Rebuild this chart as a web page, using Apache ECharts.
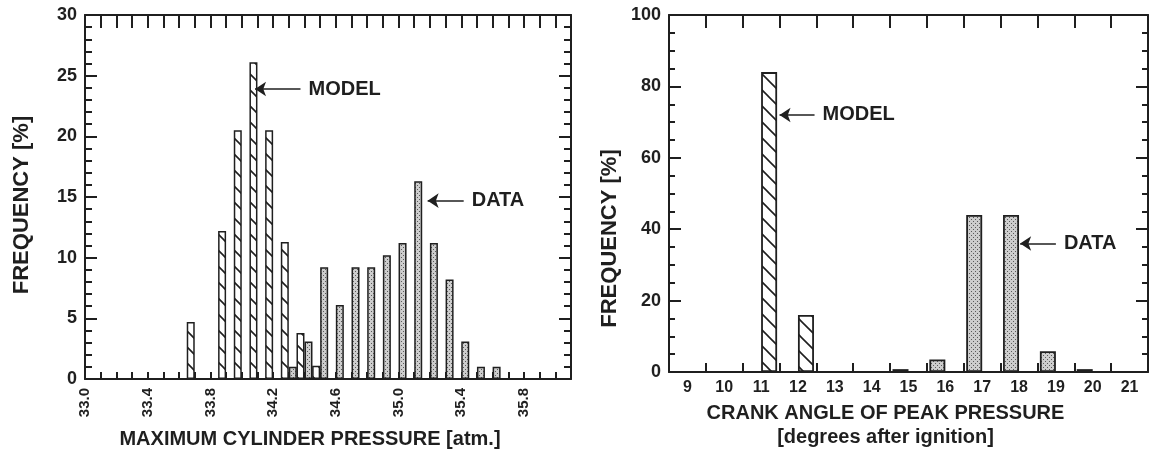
<!DOCTYPE html>
<html>
<head>
<meta charset="utf-8">
<style>
  html, body { margin: 0; padding: 0; background: #ffffff; }
  #chart { width: 1149px; height: 454px; }
</style>
<script src="https://cdn.jsdelivr.net/npm/echarts@6/dist/echarts.min.js"></script>
</head>
<body>
<div id="chart"></div>
<script>
// ---- Maximum cylinder pressure histogram (0.1 atm bins) ----
const pressureBins  = [33.7, 33.9, 34.0, 34.1, 34.2, 34.3, 34.4, 34.5, 34.6, 34.7,
                       34.8, 34.9, 35.0, 35.1, 35.2, 35.3, 35.4, 35.5, 35.6];
const pressureModel = [4.7, 12.2, 20.5, 26.1, 20.5, 11.3, 3.8, 1.1, null, null,
                       null, null, null, null, null, null, null, null, null];
const pressureData  = [null, null, null, null, null, 1.0, 3.1, 9.2, 6.1, 9.2,
                       9.2, 10.2, 11.2, 16.3, 11.2, 8.2, 3.1, 1.0, 1.0];
const pressureLabels = ['33.0', '33.4', '33.8', '34.2', '34.6', '35.0', '35.4', '35.8'];

// ---- Crank angle of peak pressure histogram (1 degree bins) ----
const crankAngles = ['9', '10', '11', '12', '13', '14', '15', '16', '17', '18', '19', '20', '21'];
const crankModel  = [null, null, 84, 16, null, null, null, null, null, null, null, null, null];
const crankData   = [null, null, null, null, null, null, 0.8, 3.5, 44, 44, 5.8, 0.8, null];

const FONT = '"Liberation Sans", Arial, Helvetica, sans-serif';
const INK = '#1f1f1f';

// Fill patterns: diagonal hatch for the model, grey stipple for the measurements
function hatchPattern() {
  const c = document.createElement('canvas');
  c.width = 16; c.height = 16;
  const g = c.getContext('2d');
  g.fillStyle = '#ffffff';
  g.fillRect(0, 0, 16, 16);
  g.strokeStyle = INK;
  g.lineWidth = 1.6;
  g.beginPath();
  g.moveTo(-2, -2); g.lineTo(18, 18);
  g.moveTo(-2, 14); g.lineTo(2, 18);
  g.moveTo(14, -2); g.lineTo(18, 2);
  g.stroke();
  return c;
}
function stipplePattern() {
  const c = document.createElement('canvas');
  c.width = 4; c.height = 4;
  const g = c.getContext('2d');
  g.fillStyle = '#cdcdcd';
  g.fillRect(0, 0, 4, 4);
  g.fillStyle = '#5a5a5a';
  g.fillRect(1, 1, 1, 1);
  g.fillRect(3, 3, 1, 1);
  return c;
}
const HATCH = { image: hatchPattern(), repeat: 'repeat' };
const STIPPLE = { image: stipplePattern(), repeat: 'repeat' };

const pairs = (xs, ys) => xs.map((x, i) => [x, ys[i]]).filter(p => p[1] != null);

const boldText = (size) => ({ fontFamily: FONT, fontWeight: 'bold', fontSize: size, color: INK });

const axisLine = { show: true, onZero: false, lineStyle: { color: INK, width: 2 } };

function tickAxis(extra) {
  return Object.assign({
    axisLine: axisLine,
    splitLine: { show: false },
    minorSplitLine: { show: false }
  }, extra);
}

// Labelled arrows; each entry is [text, tail coord, head coord]
function arrowLines(entries) {
  return {
    silent: true,
    animation: false,
    symbol: ['none', 'arrow'],
    symbolSize: 11,
    lineStyle: { color: INK, width: 1.6, type: 'solid' },
    label: Object.assign({ show: true, position: 'start', distance: 8, formatter: '{b}' }, boldText(20)),
    data: entries.map(([text, from, to]) => [{ name: text, coord: from }, { name: text, coord: to }])
  };
}

const option = {
  animation: false,
  backgroundColor: '#ffffff',
  grid: [
    { left: 85, right: 578, top: 15, bottom: 74 },
    { left: 669, right: 1, top: 15, bottom: 78 }
  ],
  xAxis: [
    tickAxis({
      gridIndex: 0, type: 'value', position: 'bottom',
      min: 33.0, max: 36.1, interval: 0.1,
      axisTick: { show: true, inside: true, length: 7, lineStyle: { color: INK, width: 2 } },
      axisLabel: Object.assign({
        rotate: 90, margin: 9,
        formatter: (v) => {
          const s = v.toFixed(1);
          return pressureLabels.indexOf(s) >= 0 ? s : '';
        }
      }, boldText(15)),
      name: 'MAXIMUM CYLINDER PRESSURE [atm.]',
      nameLocation: 'middle', nameGap: 50,
      nameTextStyle: Object.assign({ padding: [0, 36, 0, 0] }, boldText(20))
    }),
    tickAxis({
      gridIndex: 0, type: 'value', position: 'top',
      min: 33.0, max: 36.1, interval: 0.1,
      axisTick: { show: true, inside: true, length: 13, lineStyle: { color: INK, width: 2 } },
      axisLabel: { show: false }
    }),
    tickAxis({
      gridIndex: 1, type: 'category', position: 'bottom', data: crankAngles,
      boundaryGap: true,
      axisTick: { show: true, inside: true, length: 9, lineStyle: { color: INK, width: 2 } },
      axisLabel: Object.assign({ margin: 8 }, boldText(16)),
      name: 'CRANK ANGLE OF PEAK PRESSURE\n[degrees after ignition]',
      nameLocation: 'middle', nameGap: 29,
      nameTextStyle: Object.assign({ lineHeight: 24, padding: [0, 46, 0, 0], verticalAlign: 'top' }, boldText(20))
    }),
    tickAxis({
      gridIndex: 1, type: 'category', position: 'top', data: crankAngles,
      boundaryGap: true,
      axisTick: { show: true, inside: true, length: 13, lineStyle: { color: INK, width: 2 } },
      axisLabel: { show: false }
    }),
    { gridIndex: 1, type: 'value', min: 8.5, max: 21.5, show: false }
  ],
  yAxis: [
    tickAxis({
      gridIndex: 0, type: 'value', position: 'left',
      min: 0, max: 30, interval: 5,
      axisTick: { show: true, inside: true, length: 12, lineStyle: { color: INK, width: 2 } },
      minorTick: { show: true, splitNumber: 5, length: 7, lineStyle: { color: INK, width: 2 } },
      axisLabel: Object.assign({ margin: 8 }, boldText(18)),
      name: 'FREQUENCY [%]', nameLocation: 'middle', nameGap: 52,
      nameTextStyle: Object.assign({ padding: [0, 16, 0, 0] }, boldText(22))
    }),
    tickAxis({
      gridIndex: 0, type: 'value', position: 'right',
      min: 0, max: 30, interval: 5,
      axisTick: { show: true, inside: true, length: 12, lineStyle: { color: INK, width: 2 } },
      minorTick: { show: true, splitNumber: 5, length: 7, lineStyle: { color: INK, width: 2 } },
      axisLabel: { show: false }
    }),
    tickAxis({
      gridIndex: 1, type: 'value', position: 'left',
      min: 0, max: 100, interval: 20,
      axisTick: { show: true, inside: true, length: 12, lineStyle: { color: INK, width: 2 } },
      minorTick: { show: true, splitNumber: 4, length: 6, lineStyle: { color: INK, width: 2 } },
      axisLabel: Object.assign({ margin: 8 }, boldText(18)),
      name: 'FREQUENCY [%]', nameLocation: 'middle', nameGap: 48,
      nameTextStyle: Object.assign({ padding: [0, 90, 0, 0] }, boldText(22))
    }),
    tickAxis({
      gridIndex: 1, type: 'value', position: 'right',
      min: 0, max: 100, interval: 20,
      axisTick: { show: true, inside: true, length: 12, lineStyle: { color: INK, width: 2 } },
      minorTick: { show: true, splitNumber: 4, length: 6, lineStyle: { color: INK, width: 2 } },
      axisLabel: { show: false }
    })
  ],
  series: [
    {
      name: 'MODEL', type: 'bar', xAxisIndex: 0, yAxisIndex: 0,
      barWidth: 8, barGap: '0%',
      data: pairs(pressureBins, pressureModel),
      itemStyle: { color: HATCH, borderColor: INK, borderWidth: 1.5 },
      markLine: arrowLines([['MODEL', [34.40, 23.9], [34.11, 23.9]]])
    },
    {
      name: 'DATA', type: 'bar', xAxisIndex: 0, yAxisIndex: 0,
      barWidth: 8, barGap: '0%',
      data: pairs(pressureBins, pressureData),
      itemStyle: { color: STIPPLE, borderColor: INK, borderWidth: 1.5 },
      markLine: arrowLines([['DATA', [35.39, 14.7], [35.16, 14.7]]])
    },
    {
      name: 'DATA', type: 'bar', xAxisIndex: 2, yAxisIndex: 2,
      barWidth: 16, barGap: '0%',
      data: crankData,
      itemStyle: { color: STIPPLE, borderColor: INK, borderWidth: 1.8 }
    },
    {
      name: 'MODEL', type: 'bar', xAxisIndex: 2, yAxisIndex: 2,
      barWidth: 16, barGap: '0%',
      data: crankModel,
      itemStyle: { color: HATCH, borderColor: INK, borderWidth: 1.8 }
    },
    {
      name: 'annotation', type: 'scatter', xAxisIndex: 4, yAxisIndex: 2,
      symbolSize: 0, data: [],
      markLine: arrowLines([
        ['MODEL', [12.45, 72], [11.5, 72]],
        ['DATA', [19.0, 36], [18.03, 36]]
      ])
    }
  ]
};

const chart = echarts.init(document.getElementById('chart'), null, { renderer: 'canvas' });
chart.setOption(option);
</script>
</body>
</html>
